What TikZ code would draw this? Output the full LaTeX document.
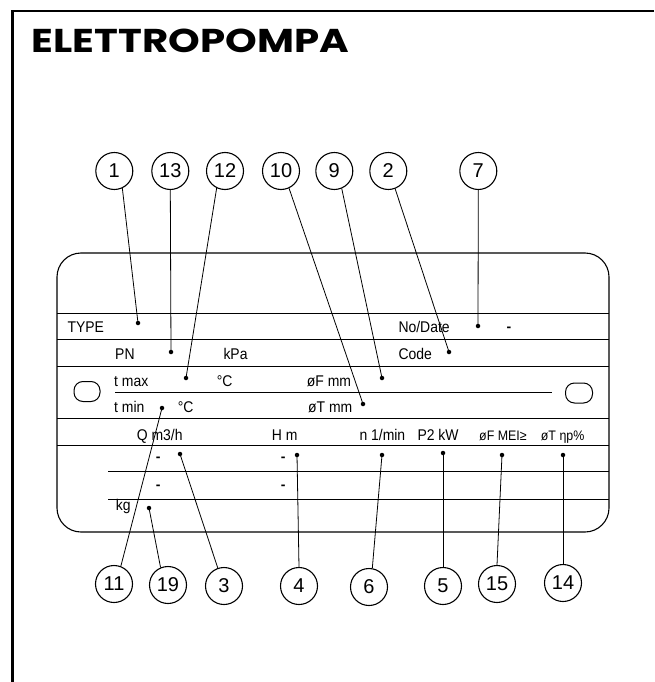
\documentclass[tikz,border=0pt]{standalone}
\usepackage{fontspec}
\setmainfont{Liberation Sans}
\newfontfamily\narrowfont{Liberation Sans}[FakeStretch=0.9]
\newfontfamily\titlefont{Poppins}
\begin{document}
\begin{tikzpicture}[x=1pt,y=-1pt,
  frame/.style={line width=2.5pt},
  plate/.style={line width=1.1pt},
  rule/.style={line width=1pt},
  lbl/.style={anchor=base west,inner sep=0pt,font=\narrowfont\fontsize{15.5}{15.5}\selectfont},
  slbl/.style={anchor=base west,inner sep=0pt,font=\narrowfont\fontsize{13.8}{13.8}\selectfont},
  dashmark/.style={anchor=base,inner sep=0pt,font=\fontsize{14}{14}\selectfont\bfseries},
  callout/.style={circle,draw,line width=1.1pt,minimum size=37pt,inner sep=0pt,font=\fontsize{20}{20}\selectfont},
  dot/.style={circle,fill,inner sep=0pt,minimum size=4.5pt},
  leader/.style={line width=0.8pt}
]
\useasboundingbox (0,0) rectangle (654,682);
% outer frame
\draw[frame] (654,11) -- (12.5,11) -- (12.5,682);
% title
\node[anchor=south west,inner sep=0pt] (title) at (31.7,53.3)
  {\resizebox{317pt}{23.5pt}{\titlefont\bfseries ELETTROPOMPA}};
% plate
\draw[plate,rounded corners=24pt] (57,253) rectangle (609,532);
\draw[rule] (57,313) -- (609,313);
\draw[rule] (57,339.3) -- (609,339.3);
\draw[rule] (57,366) -- (609,366);
\draw[rule] (115,392.7) -- (551.7,392.7);
\draw[rule] (57,418.5) -- (609,418.5);
\draw[rule] (57,445) -- (609,445);
\draw[rule] (108.3,471) -- (609,471);
\draw[rule] (108.3,499.3) -- (609,499.3);
% holes
\draw[rule,rounded corners=9pt] (74,381.5) rectangle (100,401.5);
\draw[rule,rounded corners=9pt] (565.5,383) rectangle (592.5,403);
% labels
\node[lbl] (tType) at (67.3,332) {TYPE};
\node[lbl] (tNo) at (398.3,332) {No/Date};
\node[lbl] (tPN) at (115,359) {PN};
\node[lbl] (tkPa) at (223.3,359) {kPa};
\node[lbl] (tCode) at (398.3,359) {Code};
\node[lbl] (tTmax) at (114,386) {t max};
\node[lbl] (tC1) at (216.7,386) {°C};
\node[lbl] (tFmm) at (306.7,386) {øF mm};
\node[lbl] (tTmin) at (114,412) {t min};
\node[lbl] (tC2) at (177.7,412) {°C};
\node[lbl] (tTmm) at (308,412) {øT mm};
\node[lbl] (tQ) at (136.7,440) {Q m3/h};
\node[lbl] (tH) at (271.7,440) {H m};
\node[lbl] (tn) at (359.3,440) {n 1/min};
\node[lbl] (tP2) at (417.3,440) {P2 kW};
\node[slbl] (tMEI) at (479,440) {øF MEI≥};
\node[slbl] (teta) at (540.7,440) {øT ηp\%};
\node[lbl] (tkg) at (115.7,510) {kg};
% dashes
\node[dashmark] (m0) at (509,331) {-};
\node[dashmark] (m1) at (158.3,461.3) {-};
\node[dashmark] (m2) at (283.3,461) {-};
\node[dashmark] (m3) at (158.3,489) {-};
\node[dashmark] (m4) at (283.3,489) {-};
% dots
\node[dot] (d1) at (138,323) {};
\node[dot] (d13) at (171,352) {};
\node[dot] (d12) at (186,378) {};
\node[dot] (d10) at (363,404) {};
\node[dot] (d9) at (382,378) {};
\node[dot] (d2) at (449,352) {};
\node[dot] (d7) at (478,326) {};
\node[dot] (d11) at (162,408) {};
\node[dot] (d3) at (180,454) {};
\node[dot] (d19) at (149,508) {};
\node[dot] (d4) at (297,455) {};
\node[dot] (d6) at (382,455) {};
\node[dot] (d5) at (443,453) {};
\node[dot] (d15) at (502,455) {};
\node[dot] (d14) at (563,455) {};
% callouts top
\node[callout] (c1) at (114.3,171) {1};
\node[callout] (c13) at (170.3,171) {13};
\node[callout] (c12) at (225,171) {12};
\node[callout] (c10) at (281,171) {10};
\node[callout] (c9) at (334.3,171) {9};
\node[callout] (c2) at (388.3,171) {2};
\node[callout] (c7) at (478.3,171) {7};
% callouts bottom
\node[callout] (c11) at (114,584) {11};
\node[callout] (c19) at (168,585) {19};
\node[callout] (c3) at (224,586) {3};
\node[callout] (c4) at (299,586) {4};
\node[callout] (c6) at (369,587) {6};
\node[callout] (c5) at (443,586) {5};
\node[callout] (c15) at (497,584) {15};
\node[callout] (c14) at (563,583) {14};
% leaders
\draw[leader] (c1.-65) -- (d1.center);
\draw[leader] (c13.south) -- (d13.center);
\draw[leader] (c12.-116) -- (d12.center);
\draw[leader] (c10.-65) -- (d10.center);
\draw[leader] (c9.-67) -- (d9.center);
\draw[leader] (c2.-69) -- (d2.center);
\draw[leader] (c7.south) -- (d7.center);
\draw[leader] (c11.69) -- (d11.center);
\draw[leader] (c19.113) -- (d19.center);
\draw[leader] (c3.109) -- (d3.center);
\draw[leader] (c4.north) -- (d4.center);
\draw[leader] (c6.80) -- (d6.center);
\draw[leader] (c5.north) -- (d5.center);
\draw[leader] (c15.north) -- (d15.center);
\draw[leader] (c14.north) -- (d14.center);
\end{tikzpicture}
\end{document}
